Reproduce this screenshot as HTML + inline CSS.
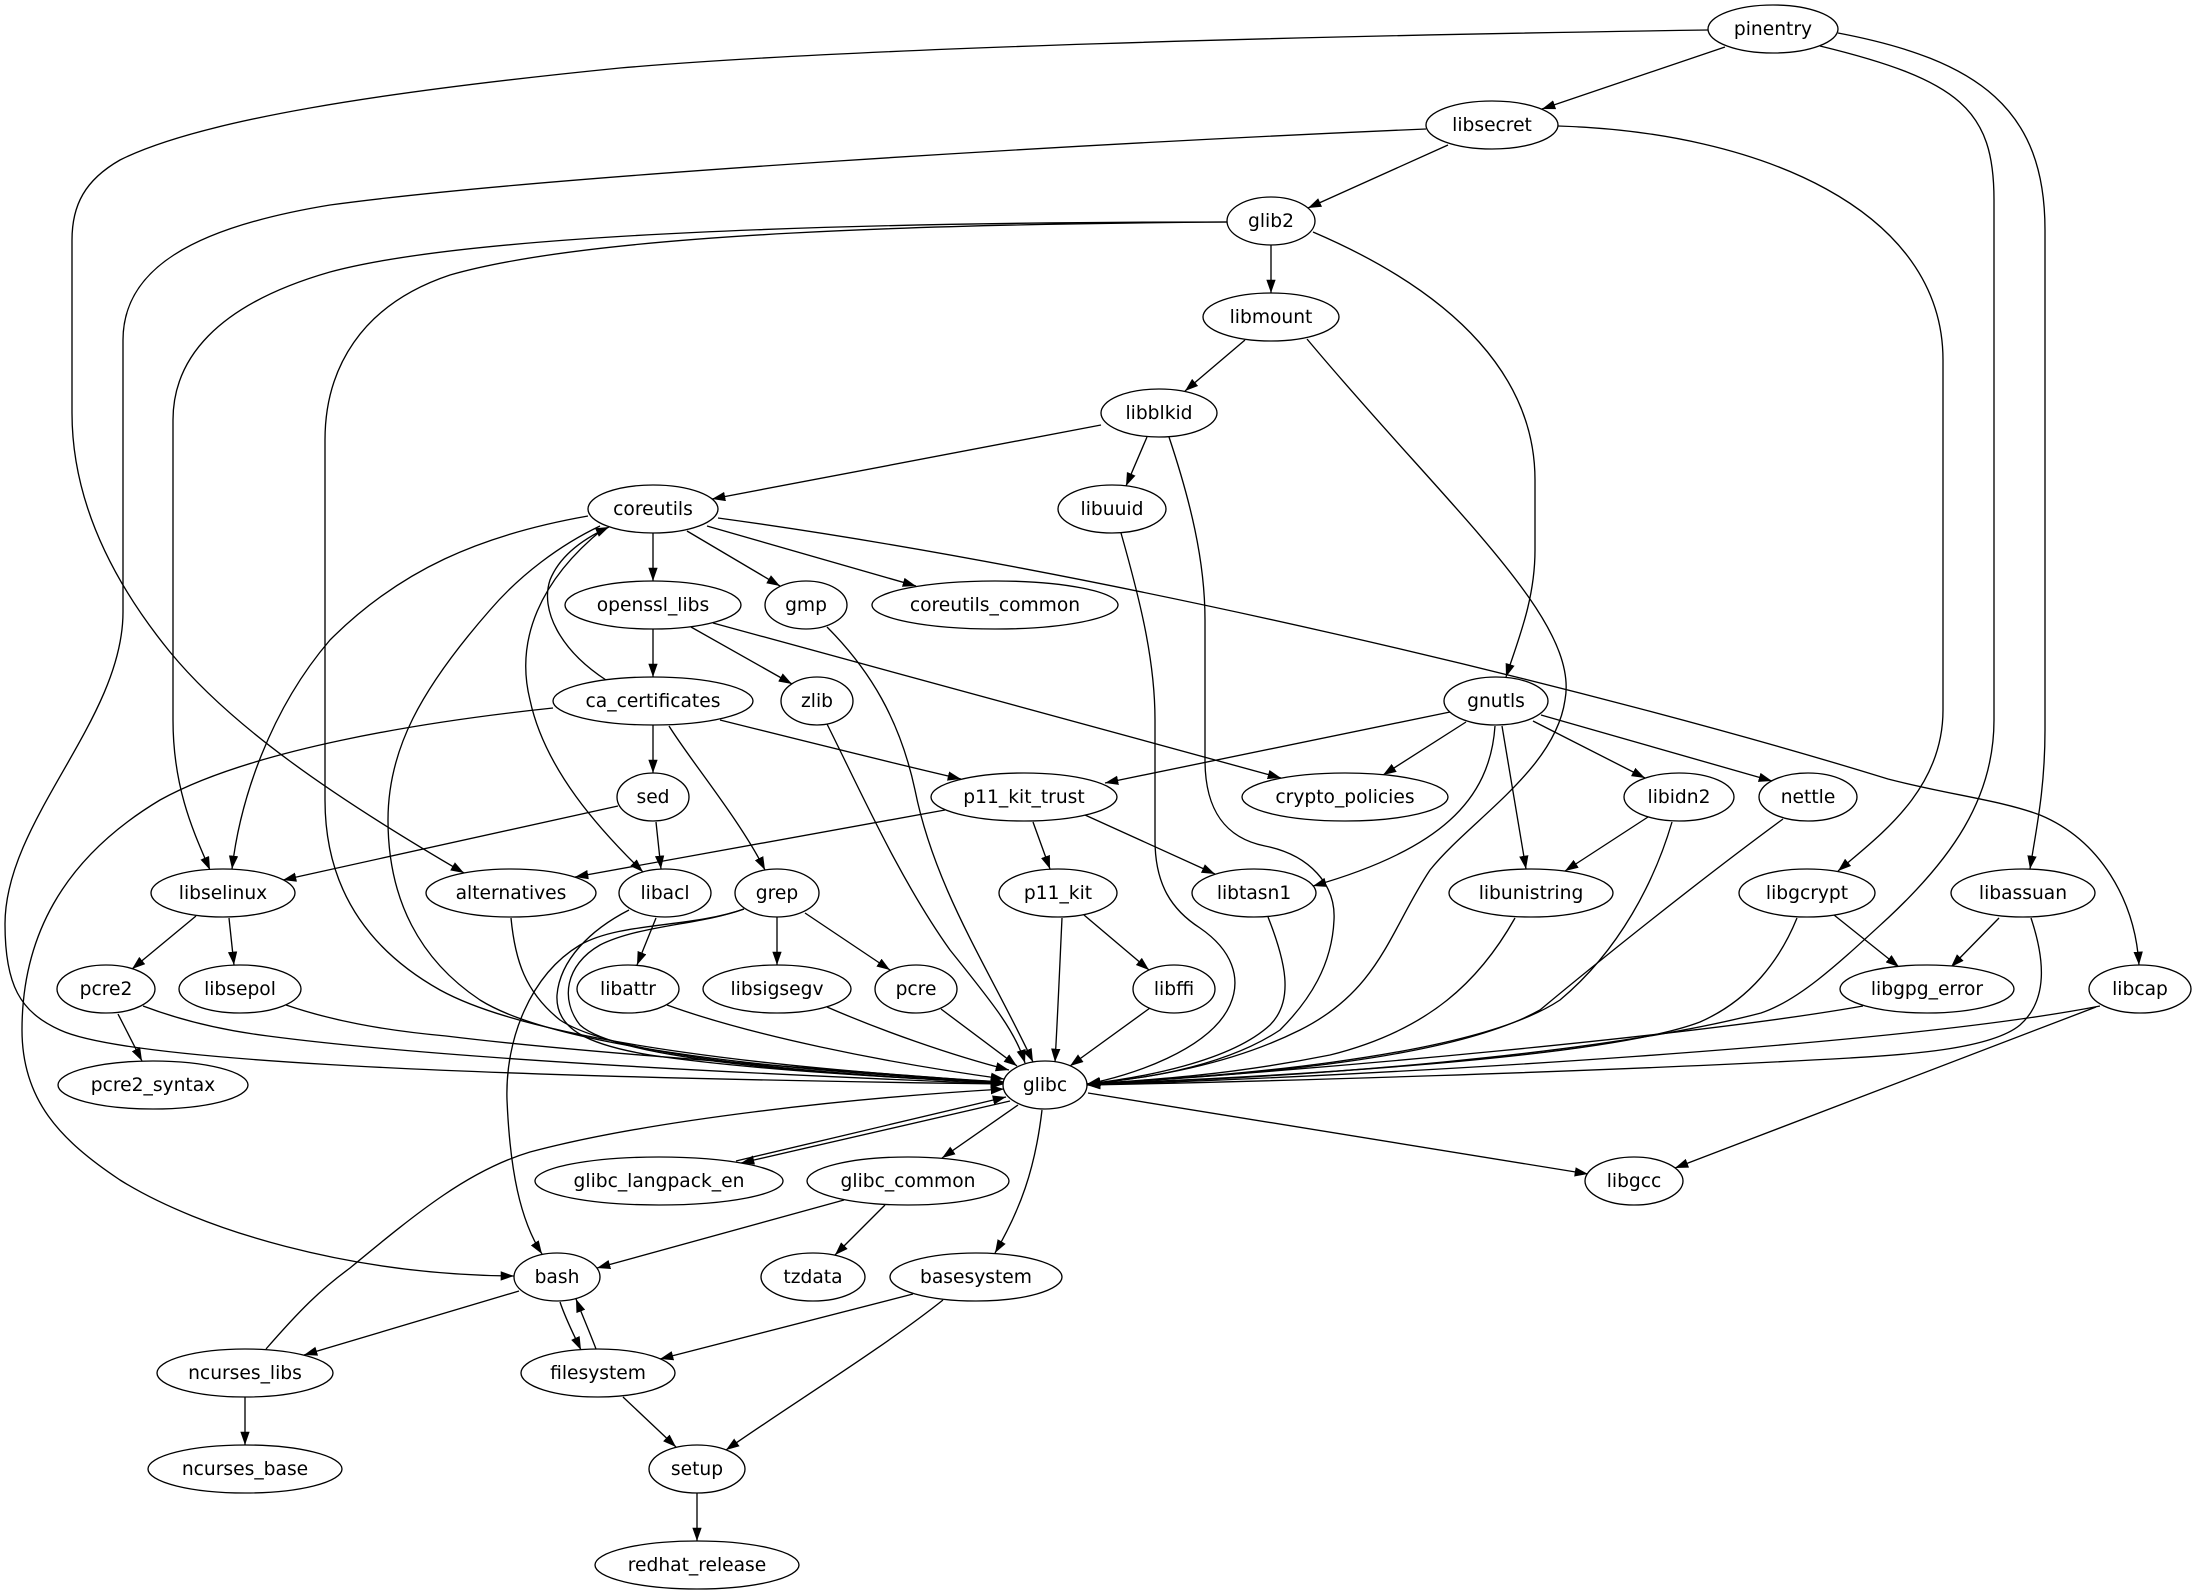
<!DOCTYPE html>
<html>
<head>
<meta charset="utf-8">
<style>
html,body{margin:0;padding:0;background:#fff;}
svg{display:block;}
text{font-family:"DejaVu Sans","Liberation Sans",sans-serif;font-size:18.67px;text-anchor:middle;fill:#000;}
</style>
</head>
<body>
<svg width="2194" height="1595" viewBox="0 0 2194 1595" xmlns="http://www.w3.org/2000/svg">
<defs>
<marker id="a" markerUnits="userSpaceOnUse" markerWidth="14" markerHeight="10" refX="13.3" refY="4.67" orient="auto">
<path d="M0,0 L13.3,4.67 L0,9.33 z" fill="#000"/>
</marker>
</defs>
<rect width="2194" height="1595" fill="#fff"/>
<g fill="none" stroke="#000" stroke-width="1.33" marker-end="url(#a)">
<path d="M1725,47 L1542,109"/>
<path d="M1708,30 C1300,36 850,48 620,68 C380,92 200,120 120,160 C85,180 72,205 72,240 L72,413 C72,480 95,560 170,652 C230,725 330,795 464,873"/>
<path d="M1820,46 C1960,80 1994,110 1994,200 L1994,720 C1994,800 1950,860 1888,918 C1840,962 1800,1000 1761,1013 C1600,1055 1300,1078 1087,1084"/>
<path d="M1838,33 C1980,60 2045,110 2045,230 L2045,730 C2045,790 2036,830 2030,869"/>
<path d="M1448,145 L1308,208"/>
<path d="M1426,129 C1100,143 550,175 330,205 C190,228 123,270 123,340 L123,612 C123,720 5,820 5,924 C5,985 20,1012 60,1030 C120,1058 400,1076 1004,1084"/>
<path d="M1558,126 C1760,132 1943,210 1943,360 L1943,710 C1943,790 1880,835 1838,871"/>
<path d="M1271,245 L1271,293"/>
<path d="M1227,222 C1000,222 500,226 330,272 C215,305 173,360 173,420 L173,720 C173,790 195,835 210,870"/>
<path d="M1227,222 C950,224 600,232 450,275 C360,305 325,370 325,440 L325,800 C325,880 360,945 440,990 C540,1045 800,1070 1004,1082"/>
<path d="M1313,232 C1460,295 1535,380 1535,480 L1535,550 C1535,600 1518,640 1506,677"/>
<path d="M1245,340 L1185,391"/>
<path d="M1307,339 C1450,510 1580,620 1565,700 C1555,770 1470,820 1430,870 C1390,930 1380,990 1300,1030 C1230,1065 1150,1078 1087,1084"/>
<path d="M1101,425 L712,499"/>
<path d="M1147,437 L1126,486"/>
<path d="M1169,437 C1190,500 1205,560 1205,620 L1205,760 C1205,810 1225,838 1265,846 C1310,855 1336,885 1334,920 C1332,965 1310,1000 1280,1030 C1220,1070 1130,1080 1087,1084"/>
<path d="M1121,533 C1140,600 1155,660 1155,720 L1155,840 C1155,885 1172,910 1200,928 C1232,950 1242,978 1230,1005 C1210,1050 1130,1076 1087,1084"/>
<path d="M653,533 L653,581"/>
<path d="M687,531 L780,586"/>
<path d="M707,526 L916,586"/>
<path d="M718,518 C1100,570 1600,690 1888,779 C1950,795 2000,800 2040,815 C2100,840 2135,900 2139,965"/>
<path d="M588,516 C480,535 400,570 330,640 C270,710 240,800 232,869"/>
<path d="M600,526 C560,545 520,575 490,610 C420,690 388,750 388,820 C388,900 420,960 480,1000 C560,1050 800,1072 1004,1082"/>
<path d="M603,529 C540,580 515,640 530,700 C545,770 600,830 643,872"/>
<path d="M606,680 C560,650 540,610 550,580 C560,555 585,538 609,527"/>
<path d="M653,629 L653,677"/>
<path d="M691,627 L792,684"/>
<path d="M713,623 L1281,778"/>
<path d="M653,725 L653,773"/>
<path d="M669,726 C690,760 740,820 765,870"/>
<path d="M720,720 C800,740 900,765 961,779"/>
<path d="M553,708 C420,722 250,750 160,800 C60,860 22,940 22,1030 C22,1100 60,1140 120,1180 C200,1230 350,1275 514,1276"/>
<path d="M827,627 C870,670 900,720 915,790 C935,890 990,970 1033,1062"/>
<path d="M827,724 C860,790 900,880 950,950 C990,1000 1015,1030 1025,1063"/>
<path d="M1450,712 L1105,783"/>
<path d="M1466,722 L1383,775"/>
<path d="M1495,726 C1490,800 1440,850 1313,886"/>
<path d="M1502,726 L1526,869"/>
<path d="M1533,721 L1645,778"/>
<path d="M1541,715 L1772,781"/>
<path d="M618,806 L283,880"/>
<path d="M656,822 L661,869"/>
<path d="M945,810 L575,877"/>
<path d="M1033,822 L1050,869"/>
<path d="M1085,815 L1215,874"/>
<path d="M1648,817 L1565,871"/>
<path d="M1672,822 C1655,880 1620,950 1560,1000 C1470,1060 1200,1078 1087,1084"/>
<path d="M1783,819 C1700,880 1600,960 1540,1010 C1450,1060 1250,1075 1087,1084"/>
<path d="M196,916 L132,969"/>
<path d="M229,918 L234,965"/>
<path d="M511,918 C515,960 525,992 560,1020 C620,1060 850,1076 1004,1083"/>
<path d="M656,918 L637,965"/>
<path d="M629,910 C590,930 560,960 557,995 C555,1030 590,1045 650,1055 C750,1070 900,1078 1004,1083"/>
<path d="M777,917 L777,965"/>
<path d="M805,913 L890,970"/>
<path d="M744,909 C700,925 640,925 600,945 C565,965 560,1000 580,1025 C620,1062 850,1076 1004,1083"/>
<path d="M744,909 C690,928 620,922 580,945 C530,975 505,1040 507,1100 C510,1170 520,1220 542,1254"/>
<path d="M1084,915 L1149,970"/>
<path d="M1062,918 C1060,960 1058,1010 1055,1062"/>
<path d="M1268,917 C1285,960 1295,1000 1270,1025 C1230,1062 1140,1078 1087,1084"/>
<path d="M1515,918 C1480,980 1430,1030 1330,1055 C1230,1075 1150,1080 1087,1084"/>
<path d="M1797,918 C1780,960 1750,1000 1700,1022 C1600,1060 1250,1078 1087,1084"/>
<path d="M1834,915 L1899,967"/>
<path d="M1999,918 L1951,967"/>
<path d="M2031,918 C2045,960 2048,1000 2020,1025 C1990,1050 1900,1055 1850,1058 C1600,1072 1250,1082 1087,1085"/>
<path d="M118,1014 L142,1061"/>
<path d="M143,1006 C180,1020 220,1030 268,1036 C450,1060 800,1076 1004,1084"/>
<path d="M286,1005 C330,1020 380,1030 446,1036 C600,1055 850,1070 1004,1083"/>
<path d="M667,1005 C750,1035 880,1062 1004,1079"/>
<path d="M827,1007 C880,1030 950,1055 1009,1070"/>
<path d="M941,1009 L1017,1066"/>
<path d="M1150,1008 L1070,1066"/>
<path d="M1863,1006 C1700,1035 1300,1072 1087,1084"/>
<path d="M2100,1006 C1900,1045 1400,1075 1087,1085"/>
<path d="M2096,1007 L1675,1168"/>
<path d="M1010,1101 L741,1163"/>
<path d="M736,1161 L1006,1097"/>
<path d="M1018,1105 L942,1158"/>
<path d="M1088,1093 L1588,1174"/>
<path d="M1042,1110 C1035,1170 1020,1210 995,1253"/>
<path d="M844,1200 L597,1268"/>
<path d="M885,1205 L835,1255"/>
<path d="M519,1291 L304,1355"/>
<path d="M560,1302 C566,1320 574,1335 581,1350"/>
<path d="M596,1349 C590,1333 583,1317 576,1299"/>
<path d="M266,1349 C300,1310 320,1290 350,1268 C420,1210 470,1170 530,1152 C650,1120 850,1098 1004,1089"/>
<path d="M245,1397 L245,1445"/>
<path d="M913,1294 L660,1359"/>
<path d="M943,1300 C880,1350 790,1405 726,1450"/>
<path d="M623,1397 L676,1447"/>
<path d="M697,1493 L697,1541"/>
</g>
<g fill="#fff" stroke="#000" stroke-width="1.33">
<ellipse cx="1773" cy="29" rx="65" ry="24"/>
<ellipse cx="1492" cy="125" rx="66" ry="24"/>
<ellipse cx="1271" cy="221" rx="44" ry="24"/>
<ellipse cx="1271" cy="317" rx="68" ry="24"/>
<ellipse cx="1159" cy="413" rx="58" ry="24"/>
<ellipse cx="653" cy="509" rx="65" ry="24"/>
<ellipse cx="1112" cy="509" rx="54" ry="24"/>
<ellipse cx="653" cy="605" rx="88" ry="24"/>
<ellipse cx="806" cy="605" rx="41" ry="24"/>
<ellipse cx="995" cy="605" rx="123" ry="24"/>
<ellipse cx="653" cy="701" rx="100" ry="24"/>
<ellipse cx="817" cy="701" rx="36" ry="24"/>
<ellipse cx="1496" cy="701" rx="52" ry="24"/>
<ellipse cx="653" cy="797" rx="36" ry="24"/>
<ellipse cx="1024" cy="797" rx="93" ry="24"/>
<ellipse cx="1345" cy="797" rx="103" ry="24"/>
<ellipse cx="1679" cy="797" rx="55" ry="24"/>
<ellipse cx="1808" cy="797" rx="49" ry="24"/>
<ellipse cx="223" cy="893" rx="72" ry="24"/>
<ellipse cx="511" cy="893" rx="85" ry="24"/>
<ellipse cx="665" cy="893" rx="46" ry="24"/>
<ellipse cx="777" cy="893" rx="42" ry="24"/>
<ellipse cx="1058" cy="893" rx="59" ry="24"/>
<ellipse cx="1254" cy="893" rx="62" ry="24"/>
<ellipse cx="1531" cy="893" rx="82" ry="24"/>
<ellipse cx="1807" cy="893" rx="68" ry="24"/>
<ellipse cx="2023" cy="893" rx="72" ry="24"/>
<ellipse cx="106" cy="989" rx="49" ry="24"/>
<ellipse cx="240" cy="989" rx="61" ry="24"/>
<ellipse cx="628" cy="989" rx="51" ry="24"/>
<ellipse cx="777" cy="989" rx="74" ry="24"/>
<ellipse cx="916" cy="989" rx="41" ry="24"/>
<ellipse cx="1174" cy="989" rx="41" ry="24"/>
<ellipse cx="1927" cy="989" rx="87" ry="24"/>
<ellipse cx="2140" cy="989" rx="51" ry="24"/>
<ellipse cx="153" cy="1085" rx="95" ry="24"/>
<ellipse cx="1045" cy="1085" rx="42" ry="24"/>
<ellipse cx="659" cy="1181" rx="124" ry="24"/>
<ellipse cx="908" cy="1181" rx="101" ry="24"/>
<ellipse cx="1634" cy="1181" rx="49" ry="24"/>
<ellipse cx="557" cy="1277" rx="43" ry="24"/>
<ellipse cx="813" cy="1277" rx="52" ry="24"/>
<ellipse cx="976" cy="1277" rx="86" ry="24"/>
<ellipse cx="245" cy="1373" rx="88" ry="24"/>
<ellipse cx="598" cy="1373" rx="77" ry="24"/>
<ellipse cx="245" cy="1469" rx="97" ry="24"/>
<ellipse cx="697" cy="1469" rx="48" ry="24"/>
<ellipse cx="697" cy="1565" rx="102" ry="24"/>
</g>
<g>
<text x="1773" y="35">pinentry</text>
<text x="1492" y="131">libsecret</text>
<text x="1271" y="227">glib2</text>
<text x="1271" y="323">libmount</text>
<text x="1159" y="419">libblkid</text>
<text x="653" y="515">coreutils</text>
<text x="1112" y="515">libuuid</text>
<text x="653" y="611">openssl_libs</text>
<text x="806" y="611">gmp</text>
<text x="995" y="611">coreutils_common</text>
<text x="653" y="707">ca_certificates</text>
<text x="817" y="707">zlib</text>
<text x="1496" y="707">gnutls</text>
<text x="653" y="803">sed</text>
<text x="1024" y="803">p11_kit_trust</text>
<text x="1345" y="803">crypto_policies</text>
<text x="1679" y="803">libidn2</text>
<text x="1808" y="803">nettle</text>
<text x="223" y="899">libselinux</text>
<text x="511" y="899">alternatives</text>
<text x="665" y="899">libacl</text>
<text x="777" y="899">grep</text>
<text x="1058" y="899">p11_kit</text>
<text x="1254" y="899">libtasn1</text>
<text x="1531" y="899">libunistring</text>
<text x="1807" y="899">libgcrypt</text>
<text x="2023" y="899">libassuan</text>
<text x="106" y="995">pcre2</text>
<text x="240" y="995">libsepol</text>
<text x="628" y="995">libattr</text>
<text x="777" y="995">libsigsegv</text>
<text x="916" y="995">pcre</text>
<text x="1174" y="995">libffi</text>
<text x="1927" y="995">libgpg_error</text>
<text x="2140" y="995">libcap</text>
<text x="153" y="1091">pcre2_syntax</text>
<text x="1045" y="1091">glibc</text>
<text x="659" y="1187">glibc_langpack_en</text>
<text x="908" y="1187">glibc_common</text>
<text x="1634" y="1187">libgcc</text>
<text x="557" y="1283">bash</text>
<text x="813" y="1283">tzdata</text>
<text x="976" y="1283">basesystem</text>
<text x="245" y="1379">ncurses_libs</text>
<text x="598" y="1379">filesystem</text>
<text x="245" y="1475">ncurses_base</text>
<text x="697" y="1475">setup</text>
<text x="697" y="1571">redhat_release</text>
</g>
</svg>
</body>
</html>
